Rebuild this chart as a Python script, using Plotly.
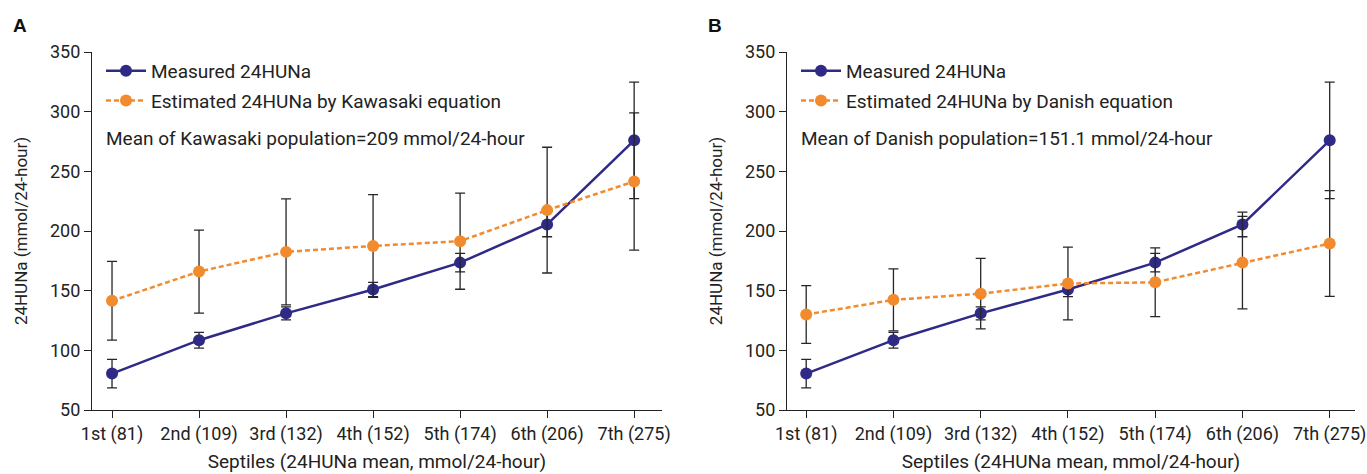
import plotly.graph_objects as go

categories = ["1st (81)", "2nd (109)", "3rd (132)", "4th (152)", "5th (174)", "6th (206)", "7th (275)"]
measured = [80.5, 108.5, 131, 151, 173.5, 205.5, 276]
measured_err = [12, 6.6, 5.4, 6, 7.7, 10.3, 48.8]
est_kawasaki = [141.5, 166, 182.5, 187.5, 191.5, 217.5, 241.5]
est_kawasaki_err = [33, 34.8, 44.4, 43, 40.3, 52.7, 57.5]
est_danish = [130, 142.3, 147.5, 156, 157, 173.5, 189.5]
est_danish_err = [24.2, 26, 29.6, 30.5, 28.8, 38.7, 44.3]
y_ticks = [50, 100, 150, 200, 250, 300, 350]

NAVY = "#2e2a86"
ORANGE = "#f28a2e"
ERR = "#262626"
FONT = "Roboto"
W, H = 1367, 474

xpos = list(range(len(categories)))

fig = go.Figure()

def add_panel(ax, leg, est, est_err, est_name):
    xa = "x" if ax == 1 else "x2"
    ya = "y" if ax == 1 else "y2"
    fig.add_trace(go.Scatter(
        x=xpos, y=measured, mode="lines+markers", name="Measured 24HUNa",
        legendgroup=leg + "m",
        line=dict(color=NAVY, width=2.5), marker=dict(color=NAVY, size=12),
        error_y=dict(type="data", array=measured_err, visible=True, color=ERR, thickness=1.3, width=5),
        xaxis=xa, yaxis=ya, legend=leg))
    fig.add_trace(go.Scatter(
        x=xpos, y=est, mode="lines+markers", name=est_name,
        legendgroup=leg + "e",
        line=dict(color=ORANGE, width=2.5, dash="5px,3px"), marker=dict(color=ORANGE, size=12),
        error_y=dict(type="data", array=est_err, visible=True, color=ERR, thickness=1.3, width=5),
        xaxis=xa, yaxis=ya, legend=leg))

add_panel(1, "legend", est_kawasaki, est_kawasaki_err, "Estimated 24HUNa by Kawasaki equation")
add_panel(2, "legend2", est_danish, est_danish_err, "Estimated 24HUNa by Danish equation")

def px_x(p):
    return p / W

def px_y(p):
    return 1 - p / H

axis_common = dict(showline=True, linecolor="#222", linewidth=1.2, ticks="outside", ticklen=7,
                   tickcolor="#222", tickwidth=1.2, showgrid=False, zeroline=False, automargin=False,
                   tickfont=dict(family=FONT, size=18, color="#222"))

xtitle = dict(text="Septiles (24HUNa mean, mmol/24-hour)", font=dict(family=FONT, size=19, color="#222"), standoff=10)
ytitle = dict(text="24HUNa (mmol/24-hour)", font=dict(family=FONT, size=17, color="#222"), standoff=17)

legend_common = dict(xanchor="left", yanchor="top", bgcolor="rgba(0,0,0,0)",
                     font=dict(family=FONT, size=19, color="#222"), tracegroupgap=2, itemwidth=40)

fig.update_layout(
    width=W, height=H,
    margin=dict(l=0, r=0, t=0, b=0, autoexpand=False),
    plot_bgcolor="white", paper_bgcolor="white",
    font=dict(family=FONT, size=18, color="#222"),
    xaxis=dict(domain=[px_x(92), px_x(662)], range=[-0.23, 6.32], tickmode="array",
               tickvals=xpos, ticktext=categories, anchor="y", title=xtitle, **axis_common),
    yaxis=dict(domain=[px_y(410), px_y(52)], range=[50, 350], tickvals=y_ticks, anchor="x",
               title=ytitle, **axis_common),
    xaxis2=dict(domain=[px_x(787), px_x(1355)], range=[-0.22, 6.29], tickmode="array",
                tickvals=xpos, ticktext=categories, anchor="y2", title=xtitle, **axis_common),
    yaxis2=dict(domain=[px_y(410), px_y(52)], range=[50, 350], tickvals=y_ticks, anchor="x2",
                title=ytitle, **axis_common),
    legend=dict(x=px_x(101), y=px_y(52), **legend_common),
    legend2=dict(x=px_x(796), y=px_y(52), **legend_common),
    showlegend=True,
    annotations=[
        dict(text="<b>A</b>", x=px_x(11), y=px_y(25), xref="paper", yref="paper", xanchor="left",
             yanchor="middle", showarrow=False, font=dict(family="Liberation Sans", size=19, color="#111")),
        dict(text="<b>B</b>", x=px_x(706), y=px_y(25), xref="paper", yref="paper", xanchor="left",
             yanchor="middle", showarrow=False, font=dict(family="Liberation Sans", size=19, color="#111")),
        dict(text="Mean of Kawasaki population=209 mmol/24-hour", x=px_x(104), y=px_y(138),
             xref="paper", yref="paper", xanchor="left", yanchor="middle", showarrow=False,
             font=dict(family=FONT, size=19, color="#222")),
        dict(text="Mean of Danish population=151.1 mmol/24-hour", x=px_x(799), y=px_y(138),
             xref="paper", yref="paper", xanchor="left", yanchor="middle", showarrow=False,
             font=dict(family=FONT, size=19, color="#222")),
    ],
)

fig.write_html("out.html", config={"displayModeBar": False},
               post_script="document.body.style.margin='0';document.body.style.overflow='hidden';")
